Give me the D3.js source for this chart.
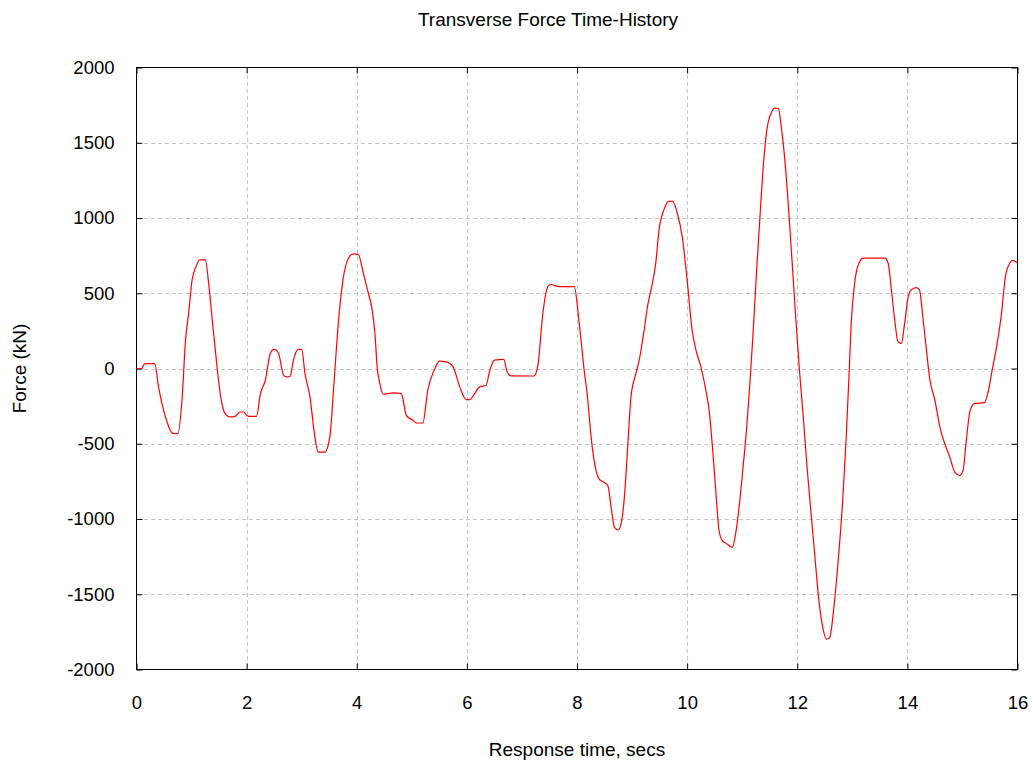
<!DOCTYPE html>
<html>
<head>
<meta charset="utf-8">
<script src="https://cdn.jsdelivr.net/npm/d3@7"></script>
<style>
  body { margin: 0; background: #fff; }
  text { font-family: "Liberation Sans", Arial, sans-serif; fill: #000; }
</style>
</head>
<body>
<svg id="main-svg" width="1034" height="762"></svg>
<script>
// Data (time in secs, force in kN)
var times = [0, 0.09, 0.15, 0.33, 0.40, 0.555, 0.65, 0.75, 0.83, 0.89, 0.95, 1.01, 1.07, 1.15, 1.25, 1.31, 1.37, 1.45, 1.52, 1.61,
  1.70, 1.79, 1.88, 1.94, 2.03, 2.18, 2.25, 2.34, 2.43, 2.50, 2.58, 2.67, 2.73, 2.79, 2.85, 2.94, 3.00, 3.06, 3.15, 3.24,
  3.30, 3.42, 3.51, 3.59, 3.66, 3.75, 3.85, 3.94, 4.03, 4.12, 4.21, 4.27, 4.33, 4.37, 4.42, 4.48, 4.66, 4.81, 4.90, 5.02,
  5.08, 5.20, 5.29, 5.42, 5.50, 5.63, 5.75, 5.87, 5.99, 6.05, 6.14, 6.23, 6.35, 6.41, 6.50, 6.67, 6.73, 6.80, 7.22, 7.29,
  7.38, 7.47, 7.53, 7.68, 7.95, 8.04, 8.13, 8.19, 8.25, 8.31, 8.40, 8.49, 8.56, 8.62, 8.68, 8.75, 8.80, 8.86, 8.92, 8.98,
  9.07, 9.13, 9.22, 9.28, 9.37, 9.43, 9.49, 9.58, 9.66, 9.74, 9.82, 9.91, 10.00, 10.09, 10.16, 10.25, 10.34, 10.40, 10.46, 10.52,
  10.58, 10.64, 10.73, 10.82, 10.88, 10.95, 11.02, 11.08, 11.14, 11.20, 11.26, 11.33, 11.38, 11.45, 11.53, 11.59, 11.66, 11.71, 11.78, 11.84,
  11.91, 11.97, 12.04, 12.11, 12.18, 12.26, 12.33, 12.39, 12.46, 12.53, 12.59, 12.66, 12.74, 12.83, 12.89, 12.94, 12.98, 13.04, 13.10, 13.20,
  13.59, 13.65, 13.71, 13.77, 13.83, 13.89, 13.95, 14.01, 14.07, 14.16, 14.22, 14.28, 14.34, 14.41, 14.50, 14.59, 14.68, 14.77, 14.86, 14.95,
  15.01, 15.07, 15.14, 15.22, 15.40, 15.46, 15.54, 15.62, 15.71, 15.78, 15.86, 15.92, 16.00];
var forces = [0, 0, 33, 33, -122, -355, -429, -433, -189, 189, 378, 589, 667, 722, 722, 567, 344, 56, -167, -300,
  -322, -318, -289, -289, -318, -318, -167, -78, 100, 127, 100, -44, -56, -51, 56, 127, 127, -33, -189, -456,
  -556, -556, -456, -78, 278, 589, 733, 762, 756, 633, 500, 411, 233, 11, -100, -171, -162, -167, -311, -344,
  -362, -362, -144, 0, 49, 44, 11, -122, -207, -207, -167, -122, -111, -22, 56, 60, -22, -49, -50, 22,
  367, 544, 558, 544, 544, 300, -11, -189, -433, -611, -733, -756, -778, -922, -1056, -1073, -1033, -856, -522, -189,
  -33, 56, 256, 411, 567, 700, 922, 1056, 1111, 1111, 1033, 878, 589, 256, 122, 11, -144, -278, -522, -811,
  -1078, -1144, -1167, -1189, -1100, -900, -640, -400, -100, 250, 640, 1050, 1330, 1590, 1701, 1730, 1725, 1605, 1363, 1074,
  688, 350, -12, -326, -664, -1001, -1291, -1532, -1713, -1798, -1786, -1605, -1291, -850, -450, -50, 300, 560, 680, 733,
  733, 700, 522, 322, 178, 167, 300, 467, 522, 538, 522, 344, 144, -78, -211, -389, -500, -589, -689, -711,
  -678, -478, -278, -233, -227, -167, -11, 144, 367, 611, 700, 718, 700];

var xTicks = [0, 2, 4, 6, 8, 10, 12, 14, 16];
var yTicks = [-2000, -1500, -1000, -500, 0, 500, 1000, 1500, 2000];

var titleText = 'Transverse Force Time-History';
var xLabel = 'Response time, secs';
var yLabel = 'Force (kN)';

// Plot box in pixels (window.top is reserved, hence the plot* names)
var plotLeft = 136.5, plotRight = 1017.5, plotTop = 67.5, plotBottom = 669.5;

var x = d3.scaleLinear().domain([0, 16]).range([plotLeft, plotRight]);
var y = d3.scaleLinear().domain([-2000, 2000]).range([plotBottom, plotTop]);

var canvas = d3.select('#main-svg');

// Dashed grid
var grid = canvas.append('g').attr('id', 'grid')
  .style('stroke', '#c4c4c4')
  .style('stroke-dasharray', '4,3')
  .style('shape-rendering', 'crispEdges');

grid.selectAll('.vgrid').data(xTicks.slice(1, -1)).enter().append('line')
  .attr('x1', (d) => Math.round(x(d)) + 0.5).attr('x2', (d) => Math.round(x(d)) + 0.5)
  .attr('y1', plotTop).attr('y2', plotBottom);

grid.selectAll('.hgrid').data(yTicks.slice(1, -1)).enter().append('line')
  .attr('y1', (d) => Math.round(y(d)) + 0.5).attr('y2', (d) => Math.round(y(d)) + 0.5)
  .attr('x1', plotLeft).attr('x2', plotRight);

// Axes with inward ticks, mirrored on the opposite side
var axisStyle = (g) => {
  g.select('.domain').remove();
  g.selectAll('.tick line').attr('stroke', '#000');
  g.selectAll('.tick text')
    .style('font-family', '"Liberation Sans", Arial, sans-serif')
    .style('font-size', '18.5px')
    .attr('fill', '#000');
};
// plain hyphen for negatives, like the original
var plain = (d) => String(d);

canvas.append('g').attr('transform', `translate(0,${plotBottom})`)
  .call(d3.axisBottom(x).tickValues(xTicks).tickFormat(plain).tickSizeInner(-6).tickPadding(26))
  .call(axisStyle);
canvas.append('g').attr('transform', `translate(0,${plotTop})`)
  .call(d3.axisTop(x).tickValues(xTicks).tickFormat('').tickSizeInner(-6))
  .call(axisStyle);
canvas.append('g').attr('transform', `translate(${plotLeft},0)`)
  .call(d3.axisLeft(y).tickValues(yTicks).tickFormat(plain).tickSizeInner(-6).tickPadding(22))
  .call(axisStyle);
canvas.append('g').attr('transform', `translate(${plotRight},0)`)
  .call(d3.axisRight(y).tickValues(yTicks).tickFormat('').tickSizeInner(-6))
  .call(axisStyle);

// Frame
canvas.append('rect')
  .attr('x', plotLeft).attr('y', plotTop)
  .attr('width', plotRight - plotLeft).attr('height', plotBottom - plotTop)
  .style('fill', 'none').style('stroke', '#000').style('stroke-width', 1);

// The force curve
var line = d3.line()
  .x((d, i) => x(times[i]))
  .y((d) => y(d))
  .curve(d3.curveMonotoneX);

canvas.append('path')
  .datum(forces)
  .attr('d', line)
  .style('fill', 'none')
  .style('stroke', '#ff0000')
  .style('stroke-width', 1.2);

// Title and axis labels
canvas.append('text')
  .attr('x', 548).attr('y', 26)
  .style('text-anchor', 'middle').style('font-size', '19px')
  .text(titleText);

canvas.append('text')
  .attr('x', (plotLeft + plotRight) / 2).attr('y', 756)
  .style('text-anchor', 'middle').style('font-size', '19px')
  .text(xLabel);

canvas.append('text')
  .attr('transform', `translate(26,${(plotTop + plotBottom) / 2}) rotate(-90)`)
  .style('text-anchor', 'middle').style('font-size', '19px')
  .text(yLabel);
</script>
</body>
</html>
